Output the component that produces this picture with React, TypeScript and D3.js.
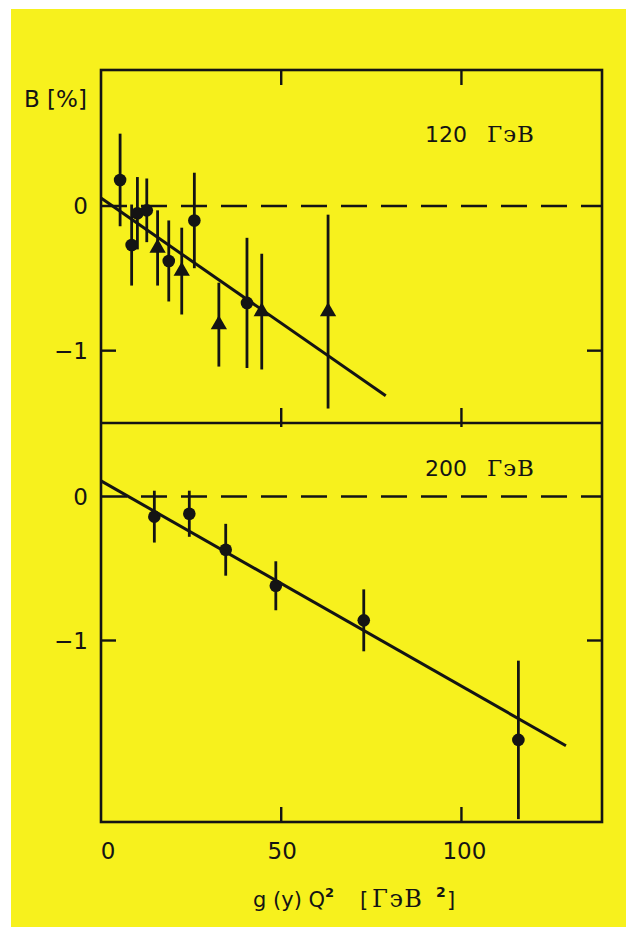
import React from "react";
import * as d3 from "d3";

// 120 GeV panel: x = g(y)Q^2, y = B [%], err = half error bar, m = marker
const topX = [5.3, 8.5, 10.1, 12.7, 18.8, 25.9, 40.5, 15.7, 22.4, 32.7, 44.6, 63.0];
const topY = [0.18, -0.27, -0.05, -0.03, -0.38, -0.1, -0.67, -0.29, -0.45, -0.82, -0.73, -0.73];
const topErr = [0.32, 0.28, 0.25, 0.22, 0.28, 0.33, 0.45, 0.26, 0.3, 0.29, 0.4, 0.67];
const topMark = ["c", "c", "c", "c", "c", "c", "c", "t", "t", "t", "t", "t"];

// 200 GeV panel
const botX = [14.8, 24.5, 34.6, 48.5, 72.9, 115.8];
const botY = [-0.14, -0.12, -0.37, -0.62, -0.86, -1.69];
const botErr = [0.18, 0.16, 0.18, 0.17, 0.215, 0.55];

// straight-line fits: [intercept, slope, xEnd]
const topFit = [0.055, -0.0173, 79];
const botFit = [0.108, -0.01425, 129];

const xTicks = [50, 100];
const yTicks = [0, -1];

const W = 638;
const H = 936;
const left = 101;
const right = 602;
const top = 70;
const mid = 423;
const bottom = 822;

const sans = "'DejaVu Sans', sans-serif";
const serif = "'DejaVu Serif', serif";
const ink = "#141414";

function Panel({ y, xs, ys, errs, marks, fit, label, labelY }) {
  const x = d3.scaleLinear().domain([0, 139]).range([left, right]);
  const line = d3
    .line<number>()
    .x((d) => x(d))
    .y((d) => y(fit[0] + fit[1] * d));
  const tri = d3.symbol().type(d3.symbolTriangle).size(115);
  return (
    <g>
      <line x1={left} x2={right} y1={y(0)} y2={y(0)} stroke={ink} strokeWidth={2.6} strokeDasharray="26,14" />
      {xs.map((v, i) => {
        const lo = Math.max(ys[i] - errs[i], y.domain()[0]);
        return (
          <line key={"e" + i} x1={x(v)} x2={x(v)} y1={y(ys[i] + errs[i])} y2={y(lo)} stroke={ink} strokeWidth={2.8} />
        );
      })}
      {xs.map((v, i) =>
        marks[i] === "t" ? (
          <path key={"m" + i} d={tri()} transform={`translate(${x(v)},${y(ys[i])})`} fill={ink} />
        ) : (
          <circle key={"m" + i} cx={x(v)} cy={y(ys[i])} r={6.3} fill={ink} />
        )
      )}
      <path d={line([0, fit[2]])} fill="none" stroke={ink} strokeWidth={3} />
      {yTicks.map((t) => (
        <text key={"yl" + t} x={left - 13} y={y(t)} dy="0.36em" textAnchor="end" fontFamily={sans} fontSize={23} fill={ink}>
          {t < 0 ? "\u2212" + Math.abs(t) : t}
        </text>
      ))}
      <line x1={left} x2={left + 15} y1={y(-1)} y2={y(-1)} stroke={ink} strokeWidth={2.4} />
      <line x1={right - 15} x2={right} y1={y(-1)} y2={y(-1)} stroke={ink} strokeWidth={2.4} />
      <text y={labelY} fontFamily={sans} fontSize={22} fill={ink}>
        <tspan x={425}>{label}</tspan>
        <tspan x={487} fontFamily={serif} fontSize={23} letterSpacing={1}>
          ГэВ
        </tspan>
      </text>
    </g>
  );
}

export default function App() {
  const x = d3.scaleLinear().domain([0, 139]).range([left, right]);
  const yTop = d3.scaleLinear().domain([-1.5, 0.94]).range([mid, top]);
  const yBot = d3.scaleLinear().domain([-2.26, 0.51]).range([bottom, mid]);

  return (
    <svg width={W} height={H} style={{ position: "absolute", left: 0, top: 0, background: "#fff" }}>
      <rect x={11} y={9} width={615} height={918} fill="#f7f11d" />
      <Panel y={yTop} xs={topX} ys={topY} errs={topErr} marks={topMark} fit={topFit} label="120" labelY={142} />
      <Panel
        y={yBot}
        xs={botX}
        ys={botY}
        errs={botErr}
        marks={botX.map(() => "c")}
        fit={botFit}
        label="200"
        labelY={476}
      />
      <rect x={left} y={top} width={right - left} height={bottom - top} fill="none" stroke={ink} strokeWidth={2.6} />
      <line x1={left} x2={right} y1={mid} y2={mid} stroke={ink} strokeWidth={2.6} />
      {xTicks.map((t) => (
        <g key={t}>
          <line x1={x(t)} x2={x(t)} y1={top} y2={top + 15} stroke={ink} strokeWidth={2.4} />
          <line x1={x(t)} x2={x(t)} y1={mid - 15} y2={mid + 4} stroke={ink} strokeWidth={2.4} />
          <line x1={x(t)} x2={x(t)} y1={bottom} y2={bottom - 15} stroke={ink} strokeWidth={2.4} />
        </g>
      ))}
      {[0, ...xTicks].map((t) => (
        <text
          key={"xl" + t}
          x={x(t) + (t === 0 ? 7 : t === 100 ? 3 : 1)}
          y={859}
          textAnchor="middle"
          fontFamily={sans}
          fontSize={23}
          fill={ink}
        >
          {t}
        </text>
      ))}
      <text x={24} y={107} fontFamily={sans} fontSize={23} fill={ink}>
        B [%]
      </text>
      <text y={907} fontFamily={sans} fontSize={21} fill={ink}>
        <tspan x={253}>g (y) Q</tspan>
        <tspan x={325} dy={-10} fontSize={13} fontWeight="bold">2</tspan>
        <tspan x={360} dy={10}>[</tspan>
        <tspan x={372} fontFamily={serif} fontSize={24} letterSpacing={1.5}>ГэВ</tspan>
        <tspan x={436} dy={-10} fontSize={14} fontWeight="bold">2</tspan>
        <tspan x={447} dy={10}>]</tspan>
      </text>
    </svg>
  );
}
